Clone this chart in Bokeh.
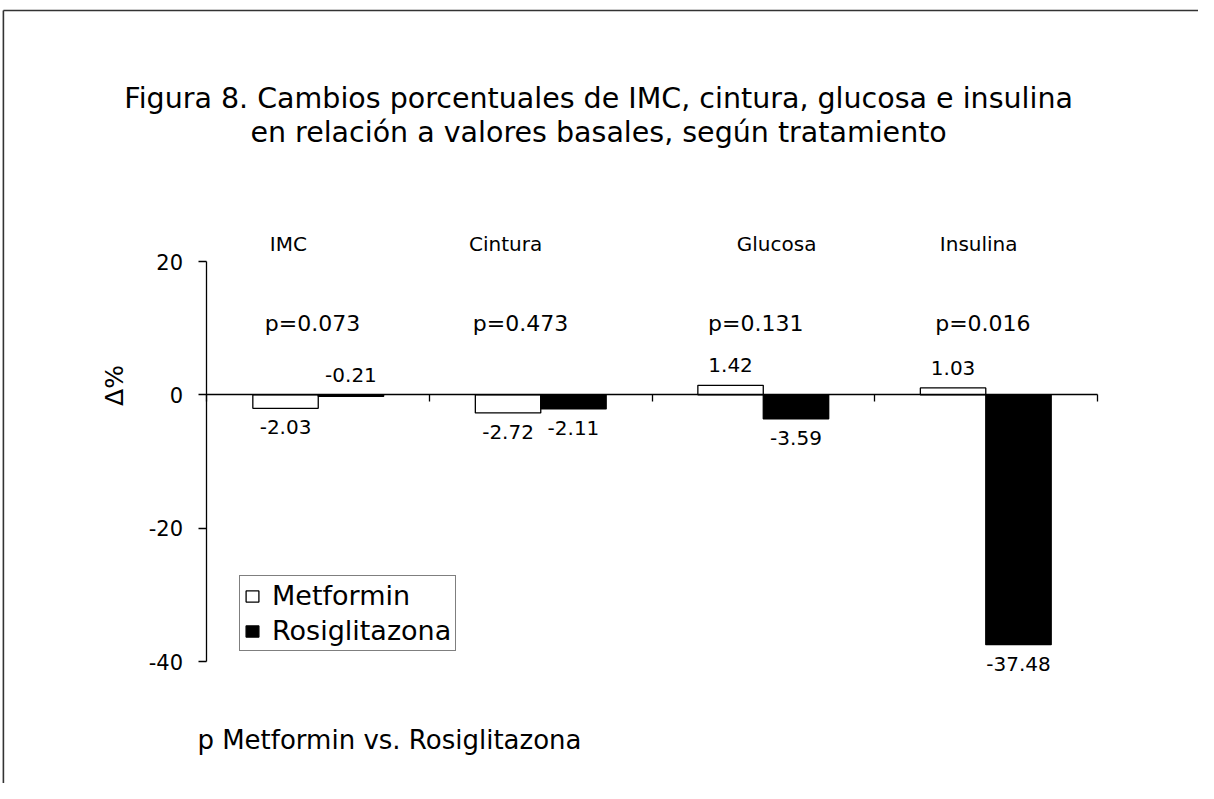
import math
from bokeh.plotting import figure
from bokeh.models import ColumnDataSource, LinearAxis, FixedTicker, Legend, LegendItem
from bokeh.core.properties import value
from bokeh.embed import file_html
from bokeh.resources import INLINE

# ---------------- data ----------------
categories = ["IMC", "Cintura", "Glucosa", "Insulina"]
metformin = [-2.03, -2.72, 1.42, 1.03]
rosiglitazona = [-0.21, -2.11, -3.59, -37.48]
p_values = ["0.073", "0.473", "0.131", "0.016"]
series_names = ["Metformin", "Rosiglitazona"]
y_ticks = [-40, -20, 0, 20]
title_lines = ["Figura 8. Cambios porcentuales de IMC, cintura, glucosa e insulina",
               "en relación a valores basales, según tratamiento"]
footnote = "p Metformin vs. Rosiglitazona"
y_label = "Δ%"

# ---------------- layout / style ----------------
FONT = value("DejaVu Sans")
W, H = 1198, 783
X0, X1 = -0.928, 4.456
Y0, Y1 = -58.3, 59.15
BAR_W = 0.294
cat_label_dx = [-0.134, -0.158, 0.06, -0.032]     # category name offsets from group centre
p_label_dx = [-0.026, -0.091, -0.034, -0.013]      # p-value offsets from group centre
label_side = [["below", "below", "above", "above"],   # Metformin value labels
              ["above", "below", "below", "below"]]   # Rosiglitazona value labels

p = figure(width=W, height=H, x_range=(X0, X1), y_range=(Y0, Y1),
           x_axis_type=None, y_axis_type=None, output_backend="svg",
           toolbar_location=None, min_border=0)
p.outline_line_color = None
p.background_fill_color = "white"
p.border_fill_color = "white"

# page frame (left and top edges; right/bottom lie outside the window)
frame_left, frame_top = -0.915, 57.65
p.line(x=[frame_left, frame_left], y=[Y0, frame_top], line_color="#333333", line_width=1.6)
p.line(x=[frame_left, X1], y=[frame_top, frame_top], line_color="#333333", line_width=1.6)

centers = [i + 0.5 for i in range(len(categories))]
x_met = [c - BAR_W / 2 for c in centers]
x_ros = [c + BAR_W / 2 for c in centers]

src_met = ColumnDataSource(dict(x=x_met, top=metformin, cat=categories))
src_ros = ColumnDataSource(dict(x=x_ros, top=rosiglitazona, cat=categories))

r_met = p.vbar(x="x", top="top", bottom=0, width=BAR_W, source=src_met,
               fill_color="white", line_color="black", line_width=1.3)
r_ros = p.vbar(x="x", top="top", bottom=0, width=BAR_W, source=src_ros,
               fill_color="black", line_color="black", line_width=1.3)

# axes
yaxis = LinearAxis(fixed_location=0, bounds=(-40, 20), ticker=FixedTicker(ticks=y_ticks))
yaxis.major_label_overrides = {t: str(t) for t in y_ticks}
yaxis.major_tick_out = 8
yaxis.major_tick_in = 0
yaxis.minor_tick_out = 0
yaxis.minor_tick_in = 0
yaxis.major_label_standoff = 16
yaxis.major_label_text_font = "DejaVu Sans"
yaxis.major_label_text_font_size = "21px"
yaxis.major_label_text_color = "black"
yaxis.axis_line_color = "black"
yaxis.axis_line_width = 1.3
yaxis.major_tick_line_width = 1.3
p.add_layout(yaxis, "left")

xaxis = LinearAxis(fixed_location=0, bounds=(0, len(categories)),
                   ticker=FixedTicker(ticks=list(range(len(categories) + 1))))
xaxis.major_tick_out = 7
xaxis.major_tick_in = 0
xaxis.minor_tick_out = 0
xaxis.minor_tick_in = 0
xaxis.major_label_overrides = {i: "" for i in range(len(categories) + 1)}
xaxis.axis_line_color = "black"
xaxis.axis_line_width = 1.3
xaxis.major_tick_line_width = 1.3
p.add_layout(xaxis, "below")

# value labels
for vals, xs, sides in [(metformin, x_met, label_side[0]), (rosiglitazona, x_ros, label_side[1])]:
    for side in ["above", "below"]:
        sx, sy, st = [], [], []
        for v, xx, s in zip(vals, xs, sides):
            if s != side:
                continue
            sx.append(xx)
            sy.append(max(v, 0) if side == "above" else min(v, 0))
            st.append(f"{v:.2f}")
        if sx:
            p.text(x=sx, y=sy, text=st, text_align="center", text_baseline="middle",
                   y_offset=(-20 if side == "above" else 19),
                   text_font=FONT, text_font_size="20px", text_color="black")

# category names and p-values
p.text(x=[c + d for c, d in zip(centers, cat_label_dx)], y=[22.7] * len(categories),
       text=categories, text_align="center", text_baseline="middle",
       text_font=FONT, text_font_size="20px", text_color="black")
p.text(x=[c + d for c, d in zip(centers, p_label_dx)], y=[10.7] * len(categories),
       text=["p=" + v for v in p_values], text_align="center", text_baseline="middle",
       text_font=FONT, text_font_size="22px", text_color="black")

# y label
p.text(x=[-0.416], y=[1.4], text=[y_label], angle=math.pi / 2, text_align="center",
       text_baseline="middle", text_font=FONT, text_font_size="25px", text_color="black")

# title
p.text(x=[1.76, 1.76], y=[44.5, 39.3], text=title_lines, text_align="center",
       text_baseline="middle", text_font=FONT, text_font_size="28.5px", text_color="black")

# footnote
p.text(x=[-0.043], y=[-51.8], text=[footnote], text_align="left", text_baseline="middle",
       text_font=FONT, text_font_size="26px", text_color="black")

legend = Legend(items=[LegendItem(label=series_names[0], renderers=[r_met]),
                       LegendItem(label=series_names[1], renderers=[r_ros])],
                location=(239, 132))
legend.border_line_color = "black"
legend.border_line_width = 1.3
legend.background_fill_color = "white"
legend.background_fill_alpha = 1
legend.label_text_font = "DejaVu Sans"
legend.label_text_font_size = "27px"
legend.label_text_color = "black"
legend.glyph_width = 16
legend.glyph_height = 14
legend.padding = 4
legend.spacing = 4
legend.label_standoff = 12
legend.margin = 0
p.add_layout(legend)

open("out.html", "w").write(file_html(p, INLINE))
